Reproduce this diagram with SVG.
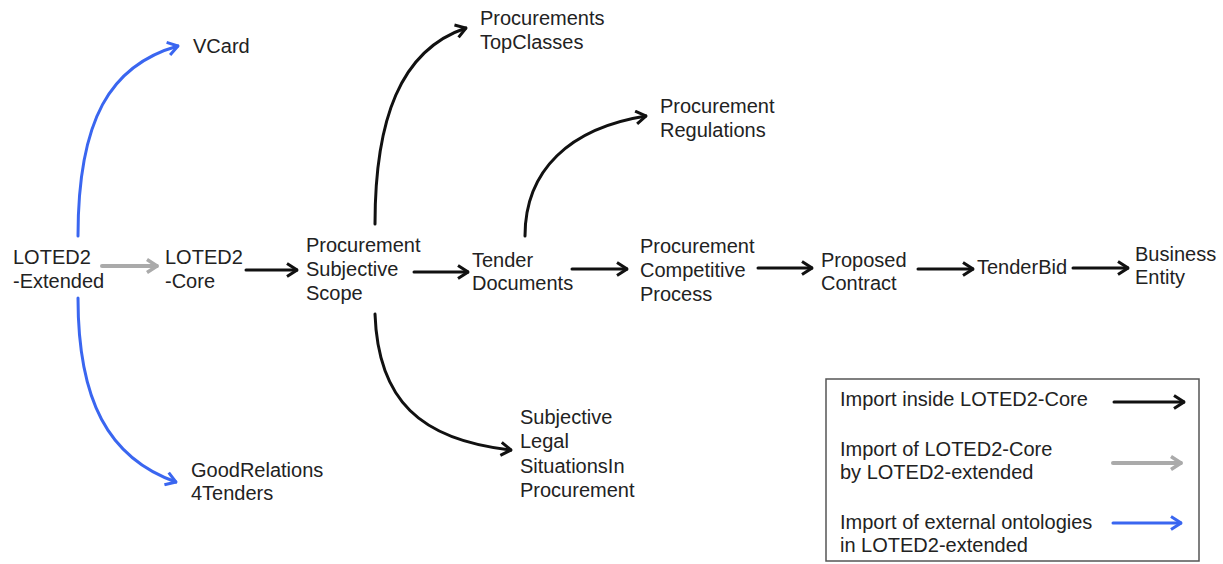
<svg xmlns="http://www.w3.org/2000/svg" width="1223" height="564" viewBox="0 0 1223 564">
<style>
text{font-family:"Liberation Sans",Arial,sans-serif;font-size:20px;fill:#222}
.c{fill:none;stroke-width:3;stroke-linecap:round}
.k{stroke:#111}
.g{stroke:#aaaaaa;stroke-width:4}
.b{stroke:#3a66f0}
</style>
<defs>
<marker id="mk" markerUnits="userSpaceOnUse" viewBox="0 0 12 16" markerWidth="12" markerHeight="16" refX="11" refY="8" orient="auto"><path d="M1,1.5 L11,8 L1,14.5" fill="none" stroke="#111" stroke-width="3"/></marker>
<marker id="mg" markerUnits="userSpaceOnUse" viewBox="0 0 12 16" markerWidth="12" markerHeight="16" refX="11" refY="8" orient="auto"><path d="M1,1.5 L11,8 L1,14.5" fill="none" stroke="#aaaaaa" stroke-width="3.5"/></marker>
<marker id="mb" markerUnits="userSpaceOnUse" viewBox="0 0 12 16" markerWidth="12" markerHeight="16" refX="11" refY="8" orient="auto"><path d="M1,1.5 L11,8 L1,14.5" fill="none" stroke="#3a66f0" stroke-width="3"/></marker>
</defs>
<rect width="1223" height="564" fill="#fff"/>
<g id="connectors">
<path class="c g" d="M102,266 L157,266" marker-end="url(#mg)"/>
<path class="c k" d="M246,270 L297,270" marker-end="url(#mk)"/>
<path class="c k" d="M414,272 L468,272" marker-end="url(#mk)"/>
<path class="c k" d="M572,269 L627,269" marker-end="url(#mk)"/>
<path class="c k" d="M758,268 L812,268" marker-end="url(#mk)"/>
<path class="c k" d="M918,269 L973,269" marker-end="url(#mk)"/>
<path class="c k" d="M1073,268 L1128,268" marker-end="url(#mk)"/>
<path class="c b" d="M78,236 C78,120 110,65 178,46" marker-end="url(#mb)"/>
<path class="c b" d="M78,298 C78,400 108,458 176,482" marker-end="url(#mb)"/>
<path class="c k" d="M375,224 C375,120 400,50 466,28" marker-end="url(#mk)"/>
<path class="c k" d="M525,236 C525,170 570,128 646,116" marker-end="url(#mk)"/>
<path class="c k" d="M375,314 C378,400 420,440 511,450" marker-end="url(#mk)"/>
</g>
<g id="n-extended"><text x="13" y="264">LOTED2</text><text x="13" y="288">-Extended</text></g>
<g id="n-core"><text x="165" y="264">LOTED2</text><text x="165" y="288">-Core</text></g>
<g id="n-pss"><text x="306" y="252">Procurement</text><text x="306" y="276">Subjective</text><text x="306" y="300">Scope</text></g>
<g id="n-tender"><text x="472" y="267">Tender</text><text x="472" y="290">Documents</text></g>
<g id="n-pcp"><text x="640" y="253">Procurement</text><text x="640" y="277">Competitive</text><text x="640" y="301">Process</text></g>
<g id="n-proposed"><text x="821" y="267">Proposed</text><text x="821" y="290">Contract</text></g>
<g id="n-tenderbid"><text x="977" y="274">TenderBid</text></g>
<g id="n-business"><text x="1135" y="261">Business</text><text x="1135" y="284">Entity</text></g>
<g id="n-vcard"><text x="193" y="53">VCard</text></g>
<g id="n-topclasses"><text x="480" y="25">Procurements</text><text x="480" y="49">TopClasses</text></g>
<g id="n-regulations"><text x="660" y="113">Procurement</text><text x="660" y="137">Regulations</text></g>
<g id="n-goodrelations"><text x="191" y="477">GoodRelations</text><text x="191" y="500">4Tenders</text></g>
<g id="n-legal"><text x="520" y="424">Subjective</text><text x="520" y="448">Legal</text><text x="520" y="473">SituationsIn</text><text x="520" y="497">Procurement</text></g>
<g id="legend">
<rect x="826" y="379" width="373" height="182" fill="none" stroke="#555" stroke-width="1.5"/>
<text x="840" y="406" font-size="19">Import inside LOTED2-Core</text>
<text x="840" y="456" font-size="19">Import of LOTED2-Core</text>
<text x="840" y="479" font-size="19">by LOTED2-extended</text>
<text x="840" y="529" font-size="19">Import of external ontologies</text>
<text x="840" y="552" font-size="19">in LOTED2-extended</text>
<path class="c k" d="M1114,402 L1184,402" marker-end="url(#mk)"/>
<path class="c g" d="M1113,463 L1181,463" marker-end="url(#mg)"/>
<path class="c b" d="M1113,523 L1181,523" marker-end="url(#mb)"/>
</g>
</svg>
